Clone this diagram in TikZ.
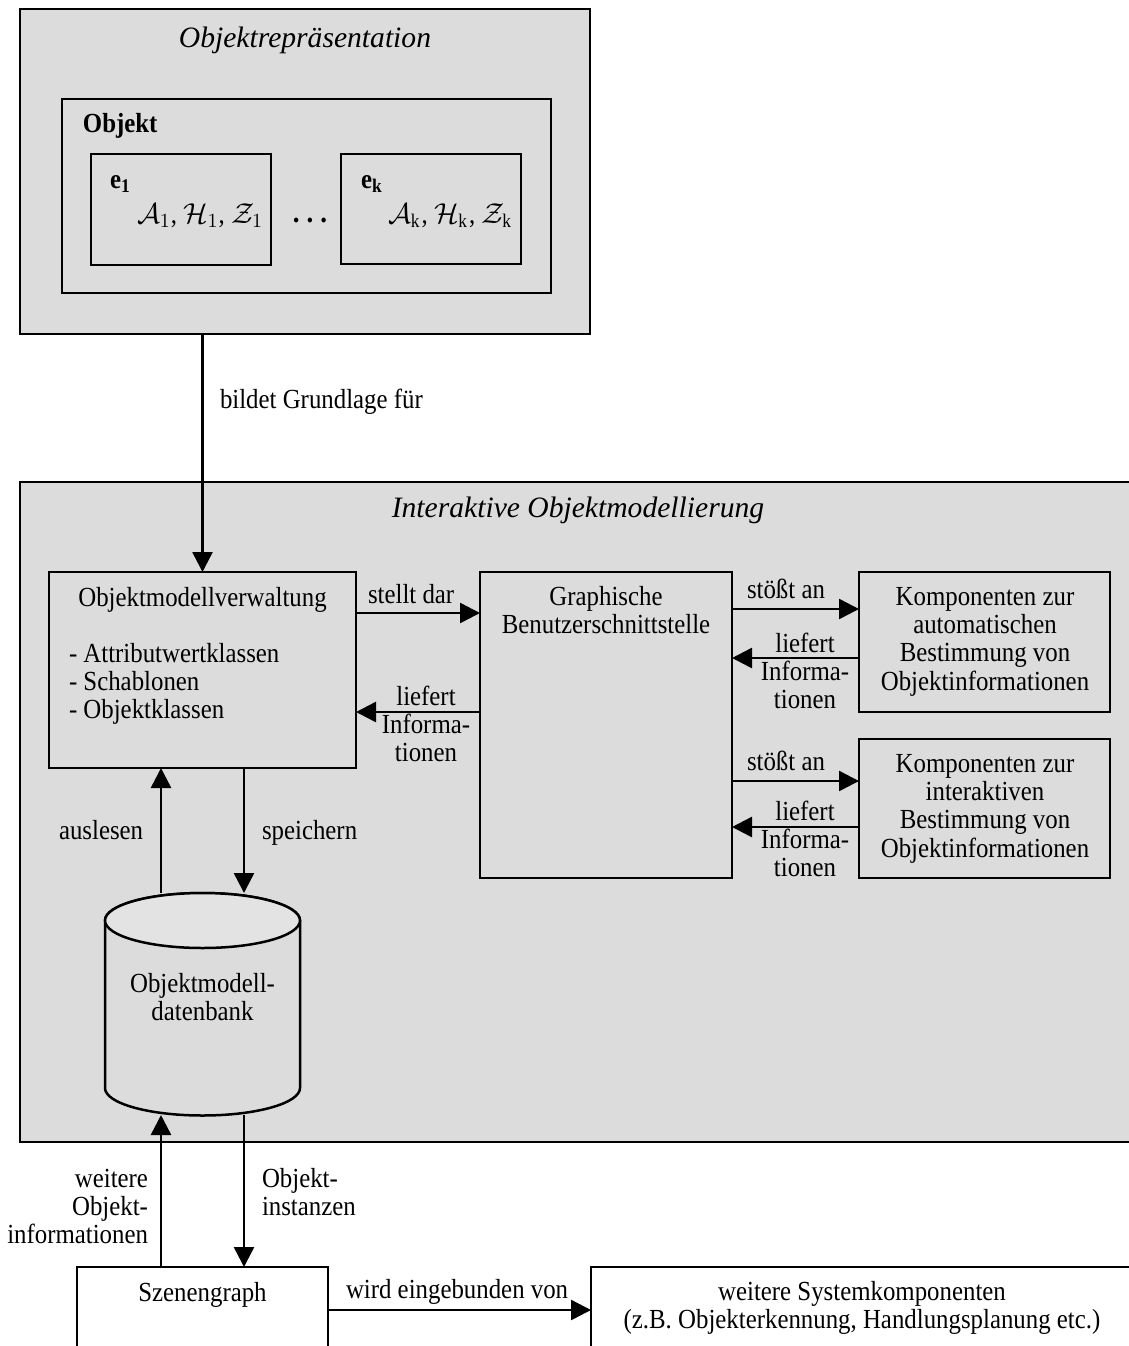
\documentclass[tikz,border=0pt]{standalone}
\usepackage{fontspec}
\setmainfont{Liberation Serif}[FakeStretch=0.9]
\newfontfamily\titlefont{Liberation Serif}
\usetikzlibrary{arrows.meta}
\definecolor{panel}{RGB}{220,220,220}

% stacked lines whose reference point is the baseline of the first line
\newcommand\cstack[1]{\vtop{\baselineskip=14.2pt\lineskiplimit=-20pt\halign{\hfil##\hfil\cr#1\crcr}}}
\newcommand\lstack[1]{\vtop{\baselineskip=14.2pt\lineskiplimit=-20pt\halign{##\hfil\cr#1\crcr}}}
\newcommand\rstack[1]{\vtop{\baselineskip=14.2pt\lineskiplimit=-20pt\halign{\hfil##\cr#1\crcr}}}

\begin{document}
\begin{tikzpicture}[x=0.5pt,y=-0.5pt,
  frame/.style={draw, line width=1.25pt, inner sep=0pt, outer sep=0pt},
  panelbox/.style={frame, fill=panel},
  txt/.style={inner sep=0pt, outer sep=0pt, font=\fontsize{13.8pt}{14.2pt}\selectfont},
  ttl/.style={inner sep=0pt, outer sep=0pt, font=\titlefont\itshape\fontsize{14.8pt}{17pt}\selectfont},
  arr/.style={line width=1.25pt, -{Triangle[length=10pt,width=10pt]}}]
\useasboundingbox (0,0) rectangle (1129,1346);
\clip (0,0) rectangle (1129,1346);
\fill[white] (0,0) rectangle (1129,1346);

% ---- object representation ----
\node[panelbox, minimum width=285pt, minimum height=162.5pt] (rep) at (305,171.5) {};
\node[ttl, anchor=base] (reptitle) at (305,47) {Objektrepräsentation};
\node[frame, minimum width=244.5pt, minimum height=97pt] (obj) at (306.5,196) {};
\node[txt, anchor=base west] (objname) at (83,132) {\bfseries Objekt};
\node[frame, minimum width=90pt, minimum height=55.5pt] (e1) at (181,209.5) {};
\node[txt, anchor=base west] (e1name) at (110,188) {\bfseries e\textsubscript{1}};
\node[txt, anchor=base west] (e1attr) at (137,223) {$\mathcal{A}_1$, $\mathcal{H}_1$, $\mathcal{Z}_1$};
\node[txt, anchor=base, font=\bfseries\fontsize{15pt}{15pt}\selectfont] (dots) at (310,222) {.\hspace{3.5pt}.\hspace{3.5pt}.};
\node[frame, minimum width=90pt, minimum height=55pt] (ek) at (431,209) {};
\node[txt, anchor=base west] (ekname) at (361,188) {\bfseries e\textsubscript{k}};
\node[txt, anchor=base west] (ekattr) at (388,223) {$\mathcal{A}_\mathrm{k}$, $\mathcal{H}_\mathrm{k}$, $\mathcal{Z}_\mathrm{k}$};

% ---- interactive object modelling ----
\node[panelbox, minimum width=560pt, minimum height=330pt] (iom) at (580,812) {};
\node[ttl, anchor=base] (iomtitle) at (578,517) {Interaktive Objektmodellierung};

\node[frame, minimum width=153.5pt, minimum height=98pt] (omv) at (202.5,670) {};
\node[txt, anchor=base] (omvname) at (202.5,606) {Objektmodellverwaltung};
\node[txt, anchor=base west] (omvlist) at (69,662) {\lstack{- Attributwertklassen\cr - Schablonen\cr - Objektklassen}};

\node[frame, minimum width=126pt, minimum height=153pt] (gui) at (606,725) {};
\node[txt, anchor=base] (guiname) at (606,605) {\cstack{Graphische\cr Benutzerschnittstelle}};

\node[frame, minimum width=125.5pt, minimum height=70pt] (auto) at (984.5,642) {};
\node[txt, anchor=base] (autoname) at (985,605) {\cstack{Komponenten zur\cr automatischen\cr Bestimmung von\cr Objektinformationen}};
\node[frame, minimum width=125.5pt, minimum height=69.5pt] (inter) at (984.5,808.5) {};
\node[txt, anchor=base] (intername) at (985,772) {\cstack{Komponenten zur\cr interaktiven\cr Bestimmung von\cr Objektinformationen}};

% database cylinder
\node[inner sep=0pt, outer sep=0pt, minimum width=97.5pt, minimum height=111pt] (db) at (202.5,1004) {};
\draw[line width=1.25pt, fill=panel] (105,920.5) -- (105,1088)
  arc[start angle=180, end angle=360, x radius=48.75pt, y radius=13.75pt]
  -- (300,920.5)
  arc[start angle=0, end angle=180, x radius=48.75pt, y radius=13.75pt] -- cycle;
\draw[line width=1.25pt, fill=panel!80!white] (202.5,920.5) ellipse [x radius=48.75pt, y radius=13.75pt];
\node[txt, anchor=base] (dbname) at (202.5,992) {\cstack{Objektmodell-\cr datenbank}};

% ---- outside components ----
\node[frame, fill=white, minimum width=125.5pt, minimum height=46.5pt] (sg) at (202.5,1313.5) {};
\node[txt, anchor=base] (sgname) at (202.5,1301) {Szenengraph};
\node[frame, fill=white, minimum width=272pt, minimum height=46.5pt] (sys) at (863,1313.5) {};
\node[txt, anchor=base] (sysname) at (862,1300) {\cstack{weitere Systemkomponenten\cr (z.B. Objekterkennung, Handlungsplanung etc.)}};

% connector rows and columns
\coordinate (r1) at (0,613);
\coordinate (r2) at (0,712);
\coordinate (r3) at (0,609);
\coordinate (r4) at (0,658);
\coordinate (r5) at (0,781);
\coordinate (r6) at (0,827);
\coordinate (r7) at (0,1310);
\coordinate (c1) at (161,0);
\coordinate (c2) at (244,0);

\draw[arr] (omv.north |- rep.south) -- (omv.north);
\node[txt, anchor=base west] (l0) at (220,408) {bildet Grundlage für};

\draw[arr] (omv.east |- r1) -- (gui.west |- r1);
\node[txt, anchor=base west] (l1) at (368,603) {stellt dar};
\draw[arr] (gui.west |- r2) -- (omv.east |- r2);
\node[txt, anchor=base] (l2) at (426,705) {\cstack{liefert\cr Informa-\cr tionen}};

\draw[arr] (gui.east |- r3) -- (auto.west |- r3);
\node[txt, anchor=base west] (l3) at (747,598) {stößt an};
\draw[arr] (auto.west |- r4) -- (gui.east |- r4);
\node[txt, anchor=base] (l4) at (805,652) {\cstack{liefert\cr Informa-\cr tionen}};

\draw[arr] (gui.east |- r5) -- (inter.west |- r5);
\node[txt, anchor=base west] (l5) at (747,770) {stößt an};
\draw[arr] (inter.west |- r6) -- (gui.east |- r6);
\node[txt, anchor=base] (l6) at (805,820) {\cstack{liefert\cr Informa-\cr tionen}};

\draw[arr] (db.north -| c1) -- (omv.south -| c1);
\node[txt, anchor=base west] (l7) at (59,839) {auslesen};
\draw[arr] (omv.south -| c2) -- (db.north -| c2);
\node[txt, anchor=base west] (l8) at (262,839) {speichern};

\draw[arr] (sg.north -| c1) -- (db.south -| c1);
\node[txt, anchor=base east] (l9) at (148,1187) {\rstack{weitere\cr Objekt-\cr informationen}};
\draw[arr] (db.south -| c2) -- (sg.north -| c2);
\node[txt, anchor=base west] (l10) at (262,1187) {\lstack{Objekt-\cr instanzen}};

\draw[arr] (sg.east |- r7) -- (sys.west |- r7);
\node[txt, anchor=base west] (l11) at (346,1298) {wird eingebunden von};
\end{tikzpicture}
\end{document}
